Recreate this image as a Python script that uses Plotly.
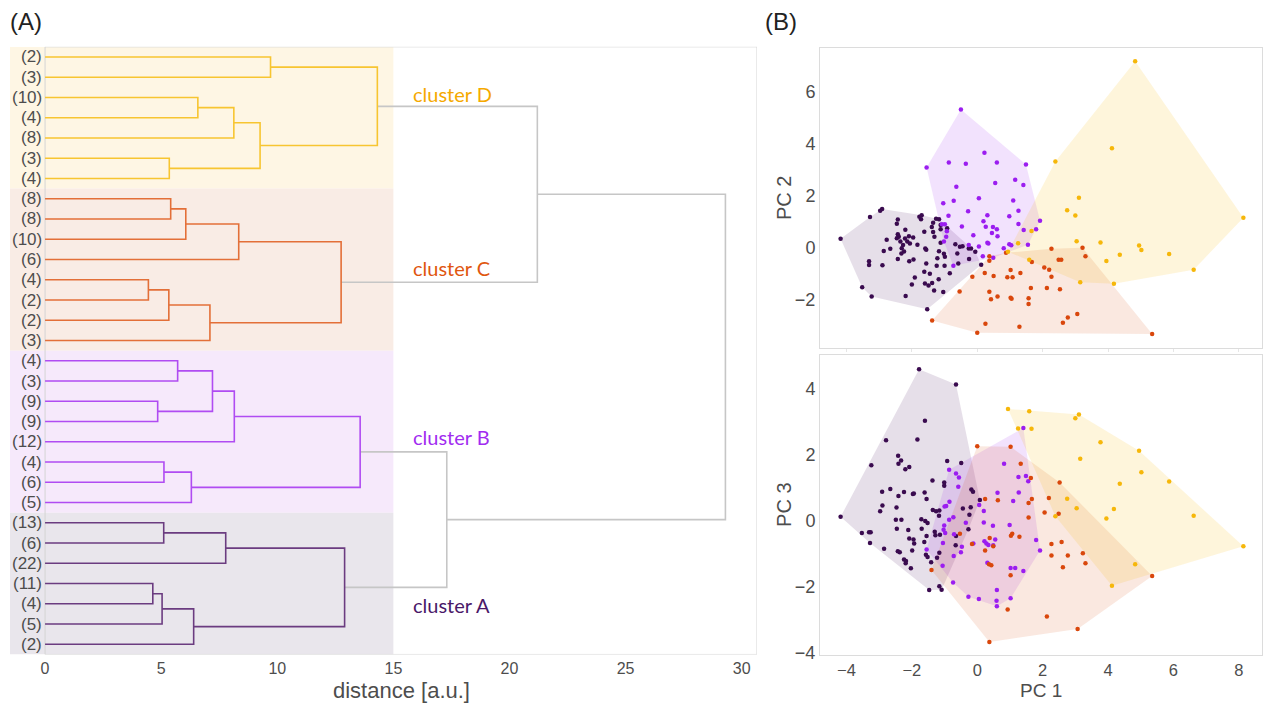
import plotly.graph_objects as go

# ---------------- Panel A: dendrogram data ----------------
leaf_labels = ["(2)", "(3)", "(10)", "(4)", "(8)", "(3)", "(4)",
               "(8)", "(8)", "(10)", "(6)", "(4)", "(2)", "(2)", "(3)",
               "(4)", "(3)", "(9)", "(9)", "(12)", "(4)", "(6)", "(5)",
               "(13)", "(6)", "(22)", "(11)", "(4)", "(5)", "(2)"]
leaf_cluster = ["D"] * 7 + ["C"] * 8 + ["B"] * 8 + ["A"] * 7

# merges (node ids: 0..29 leaves, 30+ merges in order)
merge_left = [0, 2, 31, 5, 32, 30,
              7, 36, 37, 11, 39, 40, 38,
              15, 17, 43, 45, 20, 47, 46,
              23, 50, 26, 52, 53, 51,
              35, 49, 56]
merge_right = [1, 3, 4, 6, 33, 34,
               8, 9, 10, 12, 13, 14, 41,
               16, 18, 44, 19, 21, 22, 48,
               24, 25, 27, 28, 29, 54,
               42, 55, 57]
merge_dist = [9.71, 6.58, 8.13, 5.35, 9.26, 14.31,
              5.41, 6.06, 8.34, 4.45, 5.33, 7.10, 12.75,
              5.71, 4.85, 7.21, 8.15, 5.12, 6.30, 13.57,
              5.11, 7.78, 4.64, 5.04, 6.40, 12.90,
              21.2, 17.3, 29.3]
merge_cluster = ["D"] * 6 + ["C"] * 7 + ["B"] * 7 + ["A"] * 6 + [None] * 3

cluster_names = ["D", "C", "B", "A"]
cluster_titles = ["cluster D", "cluster C", "cluster B", "cluster A"]
x_ticks = [0, 5, 10, 15, 20, 25, 30]

# ---------------- Panel B: PCA scores ----------------
d_pc1 = [4.83, 4.12, 2.39, 3.11, 2.75, 3.00, 8.14, 1.66, 3.04, 3.77, 4.95, 5.02, 4.36, 5.87, 3.95, 6.62, 3.15, 4.18, 1.25, 0.94, 1.59]
d_pc2 = [7.15, 3.81, 3.30, 1.91, 1.43, 1.23, 1.14, 0.63, 0.24, 0.19, 0.08, -0.10, -0.28, -0.25, -0.52, -0.85, -1.33, -1.39, 0.16, -0.16, -0.47]
d_pc3 = [-1.33, -1.98, 0.13, 3.21, 0.66, 3.10, -0.78, 2.78, 0.37, 2.37, 2.11, 1.46, 1.11, 1.18, 0.06, 0.14, 1.87, 0.35, 2.79, 3.38, 3.31]

c_top_pc1 = [-1.38, 0.00, -0.54, -0.15, 0.23, 0.50, 0.37, 0.37, 0.25, 1.29, 0.37, 0.42, 0.62, 1.02, 1.32, 0.92, 1.08, 1.64, 1.02,
             1.05, 1.57, 1.57, 1.67, 2.05, 2.20, 2.27, 2.27, 3.22, 3.31, 2.49, 2.57, 2.13, 2.53, 3.06, 2.77, 2.62, 5.35, 0.88]
c_top_pc2 = [-2.80, -3.27, -1.69, -1.12, -0.98, -1.09, -0.34, -0.51, -2.93, -3.04, -1.70, -1.99, -1.88, -0.86, -0.98, -1.14, -1.14, -1.55, -1.93,
             -1.97, -1.95, -2.17, -0.56, -0.77, -0.85, -1.12, -0.05, -0.01, -0.34, -0.47, -0.47, -1.55, -1.60, -2.55, -2.69, -2.89, -3.32, -0.20]
c_bot_pc1 = [0.00, 1.02, 1.33, 1.64, 2.52, 0.24, 0.63, 1.67, 2.19, 1.57, 2.06, 2.49, 1.57, -0.53, -0.16, 0.38, 0.24, 0.49, 1.07,
             1.03, 1.29, 2.27, 2.58, 2.27, 2.77, 3.23, 3.31, 2.62, 0.36, 0.43, 1.02, 5.35, 0.93, 2.13, 3.07, 0.37, -1.40]
c_bot_pc3 = [2.25, 2.23, 1.72, 1.29, 1.15, 0.65, 0.61, 0.65, 0.68, 0.53, 0.24, 0.20, 0.09, -0.40, -0.71, -0.53, -0.91, -0.78, -0.40,
             -0.46, -0.49, -0.71, -0.65, -1.06, -1.06, -0.99, -1.30, -1.42, -1.33, -1.36, -1.66, -1.68, -2.70, -2.91, -3.29, -3.68, -1.50]

b_top_pc1 = [-0.50, 0.22, -1.55, -0.87, -0.35, 0.60, 1.49, -0.64, 0.55, 1.16, 1.41, 0.05, 1.10, -0.72, -1.04, 1.26, -0.28, -0.88,
             0.31, 0.98, 0.19, 1.92, -1.08, -0.99, -0.47, 0.26, 0.48, 0.60, 1.26, 1.80, 1.42, 0.45, 0.62, -0.93, -0.12, -0.95,
             -1.02, 0.98, 1.04, 0.81, 0.31, 0.34, 0.05, -0.26, 1.55, 0.17, -0.73, 0.49]
b_top_pc2 = [5.30, 3.64, 3.07, 3.26, 3.22, 3.26, 3.19, 2.33, 2.48, 2.60, 2.40, 1.89, 1.81, 1.80, 1.70, 1.41, 1.39, 1.22,
             1.24, 1.20, 1.01, 1.03, 0.89, 0.89, 0.81, 0.80, 0.79, 0.70, 0.90, 0.70, 0.67, 0.56, 0.43, 0.62, 0.47, 0.41,
             0.23, 0.13, 0.09, -0.03, 0.18, 0.15, 0.04, 0.10, 0.11, -0.34, -0.70, -0.39]
b_bot_pc1 = [1.41, 0.82, -0.86, -0.65, -0.56, -0.58, 1.26, 1.49, 1.56, 0.62, 1.27, 1.10, -0.85, -0.95, -1.00, -0.73, 0.06, 0.20,
             -0.35, 0.20, 0.48, 0.99, -0.86, -1.01, -1.03, -0.98, -0.71, -1.05, -0.47, -0.50, -0.12, 0.22, 0.28, 0.34, 0.49,
             0.55, 1.80, 1.92, -1.55, -0.72, -1.06, 0.31, 1.02, 1.16, 1.41, -0.74, 0.60, -0.27, 0.05, 0.59, 0.60, 1.02]
b_bot_pc3 = [2.80, 1.72, 1.54, 1.42, 1.30, 1.02, 1.32, 1.35, 1.19, 0.84, 0.85, 0.59, 0.57, 0.44, 0.42, 0.10, 0.47, 0.29,
             -0.07, -0.06, -0.16, -0.14, 0.02, -0.15, -0.28, -0.38, -0.42, -0.68, -0.80, -0.96, -0.70, -0.63, -0.70, -0.74, -0.75,
             -0.58, -0.59, -0.91, -0.88, -1.08, -1.37, -1.28, -1.44, -1.44, -1.53, -1.88, -2.11, -2.31, -2.38, -2.43, -2.60, -2.36]

a_top_pc1 = [-4.18, -3.28, -2.97, -2.91, -3.52, -3.23, -3.31, -3.31, -2.90, -2.86, -2.66, -2.77, -2.43, -2.46, -2.20, -2.43,
             -2.40, -2.46, -2.35, -2.27, -2.21, -2.14, -2.06, -2.09, -1.96, -2.31, -2.24, -2.32, -2.43, -2.08, -1.95, -2.00,
             -2.19, -1.77, -1.70, -1.72, -1.83, -1.62, -1.59, -1.56, -1.56, -1.91, -1.62, -1.60, -1.53, -1.49, -1.45, -1.39,
             -1.31, -1.35, -1.35, -1.24, -1.22, -1.12, -1.26, -1.17, -1.12, -1.17, -1.18, -1.04, -1.32, -1.38, -1.02, -0.99,
             -0.84, -1.00, -0.67, -0.53, -0.45, -0.61, -0.58, -0.26, -0.19, -0.25, 0.12, -0.06, -1.12, -0.92]
a_top_pc2 = [0.34, 1.17, 1.41, 1.48, -1.53, -1.88, -0.53, -0.67, -0.68, -0.13, -0.05, 0.30, 1.08, 0.91, 0.68, 0.51,
             0.41, 0.36, 0.23, 0.10, 0.35, 0.23, 0.15, 0.43, 0.38, -0.03, -0.15, -0.23, -0.44, -0.53, -0.46, -1.42,
             -1.86, 1.18, 1.24, 1.09, 0.11, 0.61, -0.04, -0.09, -0.61, -1.15, -0.93, -1.38, -2.37, -1.46, -1.01, 0.79,
             0.41, 0.60, 0.95, -0.70, -0.41, 0.18, 1.10, 1.09, 0.70, -0.14, -1.22, -1.71, -1.65, -1.36, -0.24, -0.35,
             -0.99, -0.70, 0.13, 0.03, 0.05, -0.23, -0.61, -0.04, -0.04, -0.44, -0.66, -0.16, 0.86, 0.74]
a_bot_pc1 = [-1.78, -0.65, -1.60, -2.79, -1.83, -3.24, -2.42, -2.33, -2.41, -2.08, -2.20, -0.92, -0.49, -1.37, -1.01, -1.01,
             -2.91, -2.66, -2.24, -2.41, -1.97, -1.94, -1.61, -1.55, -2.90, -2.97, -2.47, -1.36, -1.26, -1.16, -0.18, -0.13,
             -0.44, -0.20, 0.08, -0.24, -4.18, -3.53, -3.31, -3.26, -3.28, -2.85, -2.49, -2.32, -2.46, -2.11, -2.08, -1.95,
             -1.93, -1.71, -1.59, -1.52, -1.70, -1.55, -1.62, -1.30, -1.28, -1.14, -1.17, -2.43, -2.37, -1.99, -2.24, -2.18,
             -2.19, -2.03, -1.57, -1.52, -1.41, -1.16, -1.23, -1.47, -1.16, -1.09, -0.66, -0.27, -0.65]
a_bot_pc3 = [4.58, 4.12, 3.02, 2.43, 2.45, 1.67, 1.96, 1.82, 1.72, 1.62, 1.55, 1.80, 1.74, 1.21, 1.15, 1.05,
             0.87, 0.95, 0.86, 0.74, 0.80, 0.82, 0.85, 0.65, 0.45, 0.28, 0.39, 0.32, 0.28, 0.30, 0.94, 0.87,
             0.36, 0.40, 0.62, 0.17, 0.11, -0.38, -0.36, -0.36, -0.68, -0.86, 0.02, 0.02, -0.25, -0.29, -0.55, -0.58,
             -0.70, 0.04, -0.02, -0.08, -0.25, -0.47, -0.65, -0.34, -0.45, -0.43, 0.14, -0.93, -0.96, -0.91, -1.18, -1.23,
             -1.30, -1.45, -1.04, -1.11, -1.27, -0.98, -1.13, -2.11, -1.99, -2.10, -0.75, -0.27, -0.47]

pc1_ticks = [-4, -2, 0, 2, 4, 6, 8]
pc2_ticks = [-2, 0, 2, 4, 6]
pc3_ticks = [-4, -2, 0, 2, 4]

# ---------------- styles ----------------
line_col = {"D": "#f7c531", "C": "#e36f38", "B": "#b04cf2", "A": "#6b3c80", None: "#c6c6c6"}
text_col = {"D": "#f5a900", "C": "#e0560f", "B": "#a12cf0", "A": "#4a1868"}
band_col = {"D": "#fef6e4", "C": "#f9ece5", "B": "#f6e9fb", "A": "#e9e6ec"}
dot_col = {"A": "#3a0b4f", "B": "#9b1df0", "C": "#d9470c", "D": "#f6b70a"}
hull_col = {"A": "rgba(61,10,82,0.13)", "B": "rgba(155,29,240,0.13)",
            "C": "rgba(220,76,12,0.13)", "D": "rgba(247,181,0,0.14)"}
TXT = "#4d4d4d"
FONT = "Liberation Sans, Arial, sans-serif"
LFONT = "Lato, Open Sans, sans-serif"

fig = go.Figure()

# ---------------- build dendrogram ----------------
n_leaves = len(leaf_labels)
pos = {i: (0.0, float(i)) for i in range(n_leaves)}
segs = {k: ([], []) for k in line_col}
for k, (l, r, d, c) in enumerate(zip(merge_left, merge_right, merge_dist, merge_cluster)):
    xl, yl = pos[l]
    xr, yr = pos[r]
    sx, sy = segs[c]
    sx += [xl, d, d, xr, None]
    sy += [yl, yl, yr, yr, None]
    pos[n_leaves + k] = (d, (yl + yr) / 2)

for key in [None, "D", "C", "B", "A"]:
    sx, sy = segs[key]
    fig.add_trace(go.Scatter(x=sx, y=sy, mode="lines", xaxis="x", yaxis="y",
                             line=dict(color=line_col[key], width=1.6),
                             hoverinfo="skip", showlegend=False))

shapes = []
annotations = []
x_left = -1.51
x_right = 30.66
for cname in cluster_names:
    idx = [i for i, c in enumerate(leaf_cluster) if c == cname]
    shapes.append(dict(type="rect", xref="x", yref="y", x0=x_left, x1=15,
                       y0=min(idx) - 0.5, y1=max(idx) + 0.5,
                       fillcolor=band_col[cname], line=dict(width=0), layer="below"))
shapes.append(dict(type="rect", xref="x", yref="y", x0=0, x1=x_right, y0=-0.5, y1=n_leaves - 0.5,
                   line=dict(color="#d4d4d4", width=1), fillcolor="rgba(0,0,0,0)", layer="below"))

for i, lab in enumerate(leaf_labels):
    annotations.append(dict(x=0, y=i, xref="x", yref="y", text=lab, showarrow=False,
                            xanchor="right", yanchor="middle", xshift=-1,
                            font=dict(family=FONT, size=17, color=TXT)))

# cluster labels next to the top link of each cluster
top_nodes = {}
for k, c in enumerate(merge_cluster):
    if c is not None:
        top_nodes[c] = n_leaves + k
label_dy = {"D": -0.62, "C": -0.7, "B": -0.76, "A": 0.86}
for cname, title in zip(cluster_names, cluster_titles):
    yy = pos[top_nodes[cname]][1] + label_dy[cname]
    annotations.append(dict(x=15.75, y=yy, xref="x", yref="y", text=title, showarrow=False,
                            xanchor="left", yanchor="middle",
                            font=dict(family=LFONT, size=20, color=text_col[cname])))

annotations.append(dict(x=x_right / 2, y=1 - 697 / 706, xref="x", yref="paper", text="distance [a.u.]",
                        showarrow=False, xanchor="center", yanchor="middle", borderpad=0,
                        font=dict(family=FONT, size=22, color=TXT)))

# ---------------- PCA scatter ----------------
def hull(xs, ys):
    pts = sorted(set(zip(xs, ys)))
    if len(pts) < 3:
        return pts

    def cross(o, a, b):
        return (a[0] - o[0]) * (b[1] - o[1]) - (a[1] - o[1]) * (b[0] - o[0])
    lower, upper = [], []
    for p in pts:
        while len(lower) >= 2 and cross(lower[-2], lower[-1], p) <= 0:
            lower.pop()
        lower.append(p)
    for p in reversed(pts):
        while len(upper) >= 2 and cross(upper[-2], upper[-1], p) <= 0:
            upper.pop()
        upper.append(p)
    return lower[:-1] + upper[:-1]

top_sets = {"A": (a_top_pc1, a_top_pc2), "B": (b_top_pc1, b_top_pc2),
            "C": (c_top_pc1, c_top_pc2), "D": (d_pc1, d_pc2)}
bot_sets = {"A": (a_bot_pc1, a_bot_pc3), "B": (b_bot_pc1, b_bot_pc3),
            "C": (c_bot_pc1, c_bot_pc3), "D": (d_pc1, d_pc3)}

for sets, xa, ya in [(top_sets, "x2", "y2"), (bot_sets, "x3", "y3")]:
    for cname in ["A", "B", "C", "D"]:
        xs, ys = sets[cname]
        h = hull(xs, ys)
        hx = [p[0] for p in h] + [h[0][0]]
        hy = [p[1] for p in h] + [h[0][1]]
        fig.add_trace(go.Scatter(x=hx, y=hy, mode="lines", fill="toself",
                                 fillcolor=hull_col[cname], line=dict(width=0),
                                 xaxis=xa, yaxis=ya, hoverinfo="skip", showlegend=False))
    for cname in ["A", "B", "C", "D"]:
        xs, ys = sets[cname]
        fig.add_trace(go.Scatter(x=xs, y=ys, mode="markers",
                                 marker=dict(color=dot_col[cname], size=4.5, line=dict(width=0)),
                                 xaxis=xa, yaxis=ya, showlegend=False))

W, H = 1263, 706
xdom_b = [820 / W, 1262 / W]
fig.update_layout(
    width=W, height=H, margin=dict(l=0, r=0, t=0, b=0),
    paper_bgcolor="white", plot_bgcolor="white", showlegend=False,
    xaxis=dict(domain=[10 / W, 757 / W], range=[x_left, x_right], tickvals=x_ticks,
               showgrid=False, zeroline=False, showline=False, ticks="", ticklabelstandoff=3,
               tickfont=dict(family=FONT, size=16, color=TXT), anchor="y"),
    yaxis=dict(domain=[1 - 661 / H, 1 - 47.3 / H], range=[n_leaves - 0.5, -0.5],
               showgrid=False, zeroline=False, showline=False, showticklabels=False,
               ticks="", anchor="x"),
    xaxis2=dict(domain=xdom_b, range=[-4.81, 8.71], tickvals=pc1_ticks, showticklabels=False,
                showgrid=False, zeroline=False, showline=True, mirror=True, linecolor="#dcdcdc",
                ticks="outside", ticklen=3, tickcolor="#e6e6e6", anchor="y2"),
    yaxis2=dict(domain=[1 - 351 / H, 1 - 48 / H], range=[-3.84, 7.68], tickvals=pc2_ticks,
                showgrid=False, zeroline=False, showline=True, mirror=True, linecolor="#dcdcdc",
                ticks="", tickfont=dict(family=FONT, size=18, color=TXT), anchor="x2"),
    xaxis3=dict(domain=xdom_b, range=[-4.81, 8.71], tickvals=pc1_ticks,
                showgrid=False, zeroline=False, showline=True, mirror=True, linecolor="#dcdcdc",
                ticks="", tickfont=dict(family=FONT, size=16.5, color=TXT), anchor="y3"),
    yaxis3=dict(domain=[1 - 662 / H, 1 - 359 / H], range=[-4.09, 5.0], tickvals=pc3_ticks,
                showgrid=False, zeroline=False, showline=True, mirror=True, linecolor="#dcdcdc",
                ticks="", tickfont=dict(family=FONT, size=18, color=TXT), anchor="x3"),
    shapes=shapes,
)

annotations += [
    dict(x=1041 / W, y=1 - 697.5 / H, xref="paper", yref="paper", text="PC 1", showarrow=False,
         xanchor="center", yanchor="middle", borderpad=0, font=dict(family=FONT, size=19, color=TXT)),
    dict(x=784 / W, y=1 - 200 / H, xref="paper", yref="paper", text="PC 2", showarrow=False,
         textangle=-90, xanchor="center", yanchor="middle", font=dict(family=FONT, size=20, color=TXT)),
    dict(x=784 / W, y=1 - 510 / H, xref="paper", yref="paper", text="PC 3", showarrow=False,
         textangle=-90, xanchor="center", yanchor="middle", font=dict(family=FONT, size=20, color=TXT)),
    dict(x=26 / W, y=1 - 22 / H, xref="paper", yref="paper", text="(A)", showarrow=False,
         xanchor="center", yanchor="middle", font=dict(family=FONT, size=24, color="#222222")),
    dict(x=781 / W, y=1 - 22 / H, xref="paper", yref="paper", text="(B)", showarrow=False,
         xanchor="center", yanchor="middle", font=dict(family=FONT, size=24, color="#222222")),
]
fig.update_layout(annotations=annotations)

fig.write_html("out.html")
